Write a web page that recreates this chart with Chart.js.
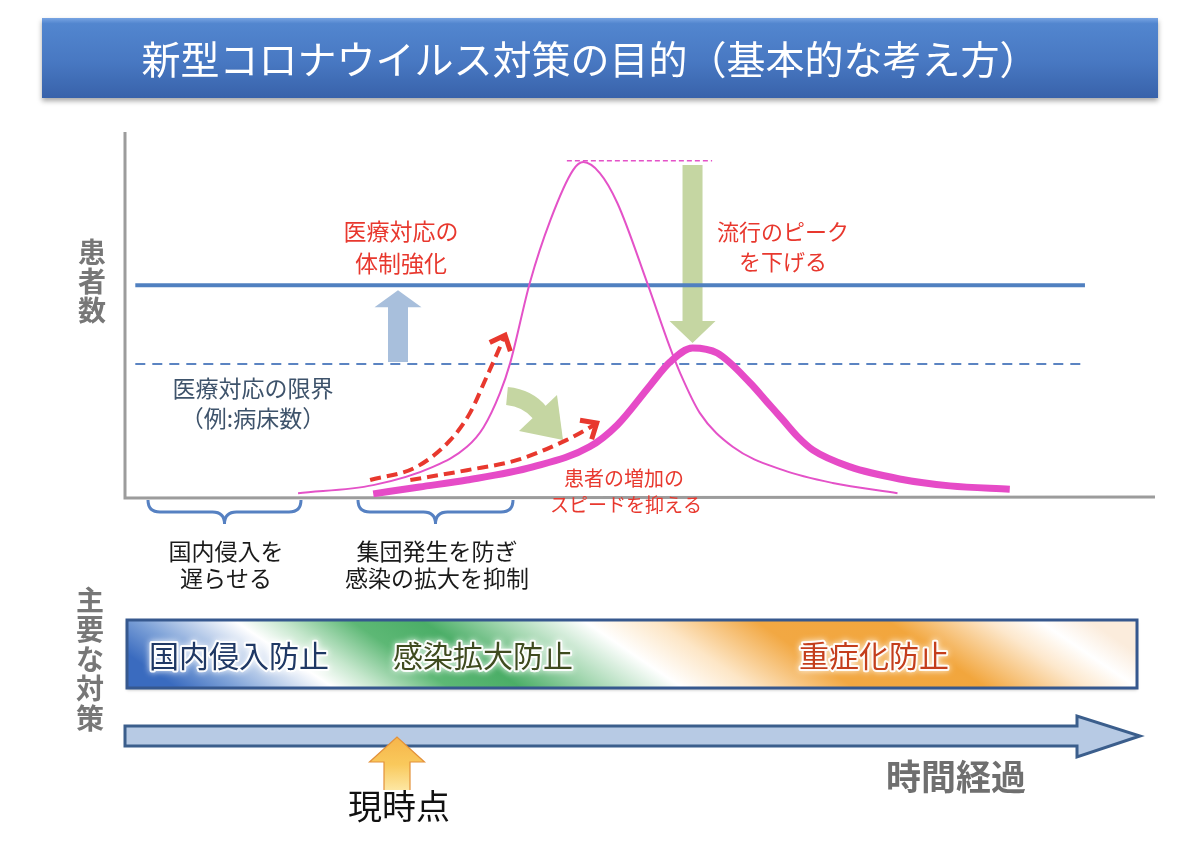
<!DOCTYPE html>
<html lang="ja">
<head>
<meta charset="utf-8">
<title>新型コロナウイルス対策の目的</title>
<script src="https://cdn.jsdelivr.net/npm/chart.js@4.4.1/dist/chart.umd.min.js"></script>
<style>
  html, body { margin: 0; padding: 0; background: #fff; }
  #wrap { width: 1200px; height: 851px; }
</style>
</head>
<body>
<div id="wrap"><canvas id="chart" width="1200" height="851"></canvas></div>
<script>
const FONT = '"Noto Sans CJK JP", "Noto Sans", sans-serif';

// 対策なしの流行カーブ（時間 0-100, 患者数 0-100）
const origX = [16.8, 24.1, 29.9, 33.2, 34.8, 36.4, 37.4, 39.3, 41.3, 43.5, 44.5, 46.1, 47.8, 50.7, 52.9, 53.9, 55.8, 59.0, 63.9, 68.7, 75.0];
const origY = [0.5, 2.7, 7.7, 13.2, 18.5, 27.9, 36.2, 58.1, 75.3, 89.0, 91.2, 88.2, 80.0, 58.1, 40.5, 33.4, 22.5, 13.2, 6.8, 3.3, 0.5];

// 対策ありの流行カーブ
const flatX = [24.1, 28.6, 33.2, 39.6, 45.1, 47.8, 51.0, 52.9, 55.1, 57.5, 60.7, 62.3, 63.9, 65.3, 66.8, 70.4, 75.2, 80.1, 85.9];
const flatY = [0.3, 2.2, 4.1, 7.7, 13.2, 19.2, 30.1, 36.4, 40.3, 38.9, 30.7, 25.6, 20.5, 16.0, 12.3, 7.7, 4.4, 2.5, 1.6];

// 赤い破線矢印（増加スピード）
const fastX = [23.8, 28.3, 31.6, 33.5, 35.1, 36.4, 36.9];
const fastY = [4.1, 7.7, 15.1, 22.5, 32.3, 40.5, 43.8];
const slowX = [27.7, 33.2, 38.1, 42.9, 44.7, 45.8];
const slowY = [4.1, 6.8, 9.6, 15.1, 17.8, 19.7];

// 医療対応の限界ライン
const capacityX = [1.0, 93.2];
const capacityNowY = [35.9, 35.9];
const capacityRaisedY = [57.5, 57.5];
const peakMarkX = [42.9, 57.0];
const peakMarkY = [91.6, 91.6];

const title = '新型コロナウイルス対策の目的（基本的な考え方）';
const measures = ['国内侵入防止', '感染拡大防止', '重症化防止'];

function zip(xs, ys) {
  return xs.map((x, i) => ({ x: x, y: ys[i] }));
}

function text(ctx, str, x, y, size, color, weight) {
  ctx.font = (weight || 'normal') + ' ' + size + 'px ' + FONT;
  ctx.fillStyle = color;
  ctx.textAlign = 'center';
  ctx.textBaseline = 'middle';
  ctx.fillText(str, x, y);
}

function glowText(ctx, str, x, y, size, color) {
  ctx.save();
  ctx.font = size + 'px ' + FONT;
  ctx.textAlign = 'center';
  ctx.textBaseline = 'middle';
  ctx.shadowColor = 'rgba(255,255,255,0.95)';
  ctx.shadowBlur = 6;
  ctx.strokeStyle = 'rgba(255,255,255,0.9)';
  ctx.lineWidth = 4;
  ctx.lineJoin = 'round';
  ctx.strokeText(str, x, y);
  ctx.shadowBlur = 0;
  ctx.fillStyle = color;
  ctx.fillText(str, x, y);
  ctx.restore();
}

function brace(ctx, x1, x2, top) {
  const mid = (x1 + x2) / 2;
  const h = top + 12;
  ctx.beginPath();
  ctx.moveTo(x1, top);
  ctx.quadraticCurveTo(x1, h, x1 + 12, h);
  ctx.lineTo(mid - 12, h);
  ctx.quadraticCurveTo(mid, h, mid, h + 12);
  ctx.quadraticCurveTo(mid, h, mid + 12, h);
  ctx.lineTo(x2 - 12, h);
  ctx.quadraticCurveTo(x2, h, x2, top);
  ctx.strokeStyle = '#5681c2';
  ctx.lineWidth = 3;
  ctx.stroke();
}

function upArrow(ctx, cx, tip, headBase, bottom, shaftW, headW) {
  ctx.beginPath();
  ctx.moveTo(cx, tip);
  ctx.lineTo(cx + headW / 2, headBase);
  ctx.lineTo(cx + shaftW / 2, headBase);
  ctx.lineTo(cx + shaftW / 2, bottom);
  ctx.lineTo(cx - shaftW / 2, bottom);
  ctx.lineTo(cx - shaftW / 2, headBase);
  ctx.lineTo(cx - headW / 2, headBase);
  ctx.closePath();
}

const decor = {
  id: 'decor',
  beforeDraw(chart) {
    const ctx = chart.ctx;
    const xs = chart.scales.x, ys = chart.scales.y;
    ctx.save();
    ctx.fillStyle = '#fff';
    ctx.fillRect(0, 0, chart.width, chart.height);

    // タイトルバー
    ctx.save();
    ctx.shadowColor = 'rgba(0,0,0,0.35)';
    ctx.shadowBlur = 5;
    ctx.shadowOffsetY = 3;
    const g = ctx.createLinearGradient(0, 18, 0, 98);
    g.addColorStop(0, '#78a4e2');
    g.addColorStop(0.07, '#5286cf');
    g.addColorStop(0.55, '#4878c2');
    g.addColorStop(1, '#3862aa');
    ctx.fillStyle = g;
    ctx.fillRect(42, 18, 1116, 80);
    ctx.restore();
    text(ctx, title, 590, 59, 39, '#ffffff');

    // 軸
    ctx.strokeStyle = '#9c9c9c';
    ctx.lineWidth = 3;
    ctx.beginPath();
    ctx.moveTo(xs.left, ys.top + 2);
    ctx.lineTo(xs.left, ys.bottom + 3);
    ctx.lineTo(xs.right, ys.bottom + 2);
    ctx.stroke();
    ctx.restore();
  },
  beforeDatasetsDraw(chart) {
    const ctx = chart.ctx;
    const xs = chart.scales.x, ys = chart.scales.y;
    ctx.save();

    // ピークを下げる矢印
    const iFlat = flatY.indexOf(Math.max(...flatY));
    const cx = xs.getPixelForValue(flatX[iFlat]);
    const topY = ys.getPixelForValue(Math.max(...origY)) + 3;
    const tipY = ys.getPixelForValue(flatY[iFlat]) - 5;
    ctx.fillStyle = '#c5d6a2';
    ctx.beginPath();
    ctx.moveTo(cx - 10, topY);
    ctx.lineTo(cx + 10, topY);
    ctx.lineTo(cx + 10, tipY - 22);
    ctx.lineTo(cx + 23, tipY - 22);
    ctx.lineTo(cx, tipY);
    ctx.lineTo(cx - 23, tipY - 22);
    ctx.lineTo(cx - 10, tipY - 22);
    ctx.closePath();
    ctx.fill();

    // 増加スピードを抑える曲がり矢印
    ctx.strokeStyle = '#c5d6a2';
    ctx.lineWidth = 18;
    ctx.lineCap = 'butt';
    ctx.beginPath();
    ctx.moveTo(507, 396);
    ctx.quadraticCurveTo(528, 398, 540, 413);
    ctx.stroke();
    ctx.beginPath();
    ctx.moveTo(519, 431);
    ctx.lineTo(557, 395);
    ctx.lineTo(563, 440);
    ctx.closePath();
    ctx.fill();

    // 体制強化の矢印
    const bx = 398;
    const bBottom = ys.getPixelForValue(capacityNowY[0]) - 2;
    const bTip = ys.getPixelForValue(capacityRaisedY[0]) + 5;
    upArrow(ctx, bx, bTip, bTip + 17, bBottom, 20, 47);
    ctx.fillStyle = '#a8bfdc';
    ctx.fill();
    ctx.restore();
  },
  afterDatasetsDraw(chart) {
    const ctx = chart.ctx;
    ctx.save();

    // 破線矢印の先端
    [0, 1].forEach(i => {
      const pts = chart.getDatasetMeta(i).data;
      const a = pts[pts.length - 2], b = pts[pts.length - 1];
      const ang = Math.atan2(b.y - a.y, b.x - a.x);
      const len = 17, spread = 0.72;
      ctx.strokeStyle = '#e8382e';
      ctx.lineWidth = 5;
      ctx.lineJoin = 'miter';
      ctx.lineCap = 'butt';
      ctx.beginPath();
      ctx.moveTo(b.x - len * Math.cos(ang - spread), b.y - len * Math.sin(ang - spread));
      ctx.lineTo(b.x, b.y);
      ctx.lineTo(b.x - len * Math.cos(ang + spread), b.y - len * Math.sin(ang + spread));
      ctx.stroke();
    });

    // 注記
    const red = '#e8382e';
    text(ctx, '医療対応の', 401, 231, 23, red);
    text(ctx, '体制強化', 401, 263, 23, red);
    text(ctx, '流行のピーク', 783, 232, 22, red);
    text(ctx, 'を下げる', 783, 262, 22, red);
    text(ctx, '医療対応の限界', 253, 388, 23, '#3e536b');
    text(ctx, '（例:病床数）', 253, 418, 23, '#3e536b');
    text(ctx, '患者の増加の', 624, 478, 20, red);
    text(ctx, 'スピードを抑える', 626, 505, 19, red);

    // 縦の見出し
    ['患', '者', '数'].forEach((c, i) => text(ctx, c, 92, 252 + i * 29, 28, '#777777', 'bold'));
    ['主', '要', 'な', '対', '策'].forEach((c, i) => text(ctx, c, 90, 600 + i * 29.5, 28, '#777777', 'bold'));

    // 中括弧
    brace(ctx, 148, 301, 500);
    brace(ctx, 358, 513, 500);
    text(ctx, '国内侵入を', 226, 551, 23, '#1a1a1a');
    text(ctx, '遅らせる', 226, 578, 23, '#1a1a1a');
    text(ctx, '集団発生を防ぎ', 437, 551, 23, '#1a1a1a');
    text(ctx, '感染の拡大を抑制', 437, 578, 23, '#1a1a1a');

    // 主要な対策バー
    const L = 127, R = 1137, T = 620, B = 688, M = (T + B) / 2;
    const gb = ctx.createLinearGradient(L, M, L + 319, M - 470);
    gb.addColorStop(0, '#3a6bbf');
    gb.addColorStop(0.06, '#7ea2d8');
    gb.addColorStop(0.155, '#ffffff');
    gb.addColorStop(0.2, '#c6e7cd');
    gb.addColorStop(0.27, '#5db875');
    gb.addColorStop(0.34, '#4bae67');
    gb.addColorStop(0.42, '#a8d9b4');
    gb.addColorStop(0.5, '#ffffff');
    gb.addColorStop(0.57, '#fde6c6');
    gb.addColorStop(0.67, '#f2a843');
    gb.addColorStop(0.8, '#f2a63d');
    gb.addColorStop(0.9, '#fde8cd');
    gb.addColorStop(0.95, '#ffffff');
    gb.addColorStop(1, '#fbecdc');
    ctx.save();
    ctx.shadowColor = 'rgba(0,0,0,0.25)';
    ctx.shadowBlur = 3;
    ctx.shadowOffsetY = 2;
    ctx.fillStyle = gb;
    ctx.fillRect(L, T, R - L, B - T);
    ctx.restore();
    ctx.strokeStyle = '#36588e';
    ctx.lineWidth = 3;
    ctx.strokeRect(L, T, R - L, B - T);
    glowText(ctx, measures[0], 239, 656, 30, '#1f3864');
    glowText(ctx, measures[1], 483, 656, 30, '#3f4b1f');
    glowText(ctx, measures[2], 874, 656, 30, '#c43e1c');

    // 時間経過の矢印
    ctx.beginPath();
    ctx.moveTo(125, 726);
    ctx.lineTo(1077, 726);
    ctx.lineTo(1077, 716);
    ctx.lineTo(1140, 736);
    ctx.lineTo(1077, 757);
    ctx.lineTo(1077, 746);
    ctx.lineTo(125, 746);
    ctx.closePath();
    ctx.fillStyle = '#b7cae4';
    ctx.fill();
    ctx.strokeStyle = '#3b5e8c';
    ctx.lineWidth = 3;
    ctx.stroke();

    // 現時点の矢印
    upArrow(ctx, 397, 737, 762, 790, 26, 55);
    const gy = ctx.createLinearGradient(0, 737, 0, 792);
    gy.addColorStop(0, '#f6b54a');
    gy.addColorStop(0.5, '#f9c95c');
    gy.addColorStop(1, '#fde9a8');
    ctx.fillStyle = gy;
    ctx.fill();
    ctx.strokeStyle = '#e3913a';
    ctx.lineWidth = 1.2;
    ctx.beginPath();
    ctx.moveTo(384, 790);
    ctx.lineTo(384, 762);
    ctx.lineTo(369.5, 762);
    ctx.lineTo(397, 737);
    ctx.lineTo(424.5, 762);
    ctx.lineTo(410, 762);
    ctx.lineTo(410, 790);
    ctx.stroke();

    text(ctx, '現時点', 399, 806, 34, '#111111');
    text(ctx, '時間経過', 956, 777, 35, '#6f6f6f', 'bold');
    ctx.restore();
  }
};

const chart = new Chart(document.getElementById('chart'), {
  type: 'line',
  data: {
    datasets: [
      { label: '急増', data: zip(fastX, fastY), borderColor: '#e8382e', borderWidth: 4, borderDash: [11, 6], cubicInterpolationMode: 'monotone', clip: false },
      { label: '緩増', data: zip(slowX, slowY), borderColor: '#e8382e', borderWidth: 4, borderDash: [11, 6], cubicInterpolationMode: 'monotone', clip: false },
      { label: '対策あり', data: zip(flatX, flatY), borderColor: '#e64bc7', borderWidth: 7, borderCapStyle: 'butt', cubicInterpolationMode: 'monotone', clip: false },
      { label: '対策なし', data: zip(origX, origY), borderColor: '#e452c8', borderWidth: 2, cubicInterpolationMode: 'monotone', clip: false },
      { label: 'ピーク', data: zip(peakMarkX, peakMarkY), borderColor: '#e452c8', borderWidth: 1.5, borderDash: [5, 3], clip: false },
      { label: '体制強化後', data: zip(capacityX, capacityRaisedY), borderColor: '#5080c0', borderWidth: 4, clip: false },
      { label: '医療対応の限界', data: zip(capacityX, capacityNowY), borderColor: '#5b84c2', borderWidth: 2, borderDash: [10, 7], clip: false }
    ]
  },
  options: {
    responsive: false,
    animation: false,
    devicePixelRatio: 1,
    layout: { padding: { left: 125, right: 45, top: 130, bottom: 356 } },
    elements: { point: { radius: 0, hoverRadius: 0 } },
    scales: {
      x: { type: 'linear', min: 0, max: 100, display: false },
      y: { type: 'linear', min: 0, max: 100, display: false }
    },
    plugins: {
      legend: { display: false },
      tooltip: { enabled: false }
    }
  },
  plugins: [decor]
});
</script>
</body>
</html>
